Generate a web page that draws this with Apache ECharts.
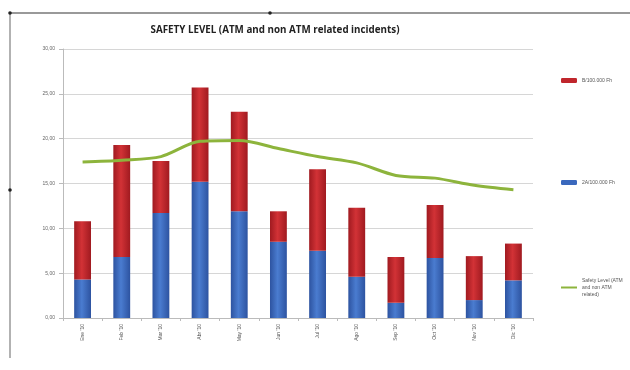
<!DOCTYPE html>
<html>
<head>
<meta charset="utf-8">
<script src="https://cdn.jsdelivr.net/npm/echarts@6/dist/echarts.min.js"></script>
<style>
  html, body { margin: 0; padding: 0; background: #fff; }
  #chart { width: 630px; height: 370px; }
</style>
</head>
<body>
<div id="chart"></div>
<script>
const months = ["Ene '10", "Feb '10", "Mar '10", "Abr '10", "May '10", "Jun '10",
  "Jul '10", "Ago '10", "Sep '10", "Oct '10", "Nov '10", "Dic '10"];
const classA = [4.3, 6.8, 11.7, 15.2, 11.9, 8.5, 7.5, 4.6, 1.7, 6.7, 2.0, 4.2];
const classB = [6.5, 12.5, 5.8, 10.5, 11.1, 3.4, 9.1, 7.7, 5.1, 5.9, 4.9, 4.1];
const safetyLevel = [17.4, 17.6, 18.0, 19.7, 19.8, 18.9, 18.0, 17.3, 15.9, 15.6, 14.8, 14.3];

const nameB = 'B/100.000 Fh';
const nameA = '2A/100.000 Fh';
const nameLine = 'Safety Level (ATM and non ATM related)';

const chart = echarts.init(document.getElementById('chart'));

function barGradient(edge, mid) {
  return new echarts.graphic.LinearGradient(0, 0, 1, 0, [
    { offset: 0, color: edge },
    { offset: 0.45, color: mid },
    { offset: 1, color: edge }
  ]);
}

const legendText = { fontSize: 5, color: '#555', fontFamily: 'Liberation Sans', lineHeight: 7 };

chart.setOption({
  animation: false,
  title: {
    text: 'SAFETY LEVEL (ATM and non ATM related incidents)',
    left: 270,
    textAlign: 'center',
    top: 20,
    textStyle: { fontSize: 9.8, fontWeight: 'bold', color: '#222', fontFamily: 'Open Sans' }
  },
  graphic: [
    { type: 'line', shape: { x1: 10, y1: 13, x2: 630, y2: 13 }, style: { stroke: '#777', lineWidth: 1.5 } },
    { type: 'line', shape: { x1: 10, y1: 13, x2: 10, y2: 358 }, style: { stroke: '#999', lineWidth: 1.5 } },
    { type: 'circle', shape: { cx: 10, cy: 13, r: 1.8 }, style: { fill: '#222' } },
    { type: 'circle', shape: { cx: 270, cy: 13, r: 1.8 }, style: { fill: '#222' } },
    { type: 'circle', shape: { cx: 10, cy: 190, r: 1.8 }, style: { fill: '#222' } }
  ],
  legend: [
    { data: [nameB], left: 556, top: 72, itemWidth: 16, itemHeight: 5, textStyle: legendText,
      itemStyle: { color: '#c0262c' } },
    { data: [nameA], left: 556, top: 174, itemWidth: 16, itemHeight: 5, textStyle: legendText,
      itemStyle: { color: '#3a68bd' } },
    { data: [{ name: nameLine, icon: 'rect' }], left: 556, top: 272, itemWidth: 16, itemHeight: 2,
      textStyle: legendText, align: 'left',
      formatter: () => 'Safety Level (ATM\nand non ATM\nrelated)' }
  ],
  grid: { left: 63, right: 97, top: 49, bottom: 52 },
  xAxis: {
    type: 'category',
    data: months,
    axisLine: { lineStyle: { color: '#bbb' } },
    axisTick: { show: true, length: 3, lineStyle: { color: '#bbb' } },
    axisLabel: { rotate: 90, fontSize: 5, color: '#555', margin: 6, fontFamily: 'Liberation Sans' }
  },
  yAxis: {
    type: 'value',
    min: 0,
    max: 30,
    interval: 5,
    axisLine: { show: true, lineStyle: { color: '#bbb' } },
    axisTick: { show: true, length: 4, lineStyle: { color: '#bbb' } },
    splitLine: { lineStyle: { color: '#d6d6d6', width: 1.2 } },
    axisLabel: {
      fontSize: 5, color: '#666', margin: 8, fontFamily: 'Liberation Sans',
      formatter: v => v.toFixed(2).replace('.', ',')
    }
  },
  series: [
    {
      name: nameA,
      type: 'bar',
      stack: 'total',
      barWidth: '43%',
      data: classA,
      itemStyle: { color: barGradient('#2d53a0', '#4a7cd0') }
    },
    {
      name: nameB,
      type: 'bar',
      stack: 'total',
      barWidth: '43%',
      data: classB,
      itemStyle: { color: barGradient('#a01a20', '#d23236') }
    },
    {
      name: nameLine,
      type: 'line',
      smooth: 0.3,
      symbol: 'none',
      data: safetyLevel,
      itemStyle: { color: '#8db43c' },
      lineStyle: { color: '#8db43c', width: 3 }
    }
  ]
});
</script>
</body>
</html>
